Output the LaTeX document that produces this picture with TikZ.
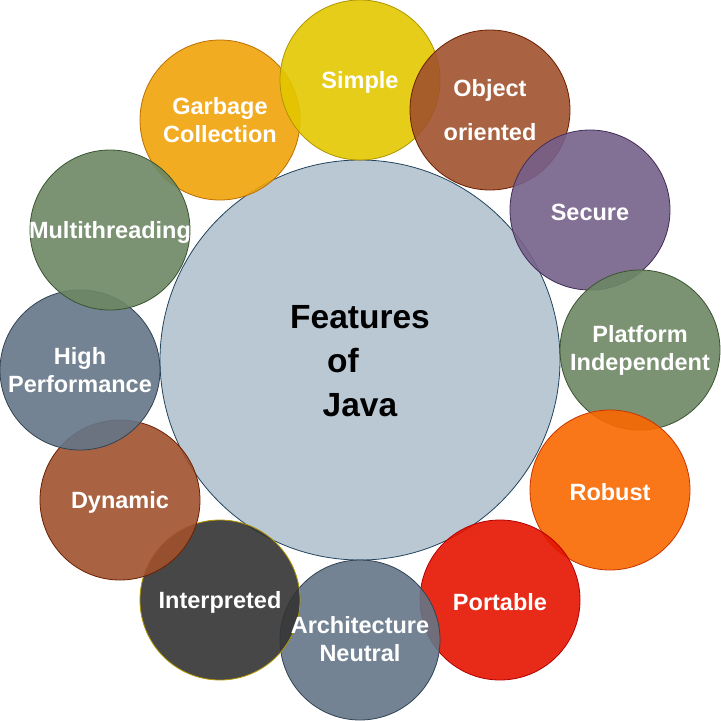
\documentclass[tikz,border=0pt]{standalone}
\usepackage{fontspec}
\setmainfont{Liberation Sans}
\definecolor{hubfill}{HTML}{BAC8D3}
\definecolor{hubline}{HTML}{23445D}
\definecolor{yellowf}{HTML}{E3C800}\definecolor{yellowl}{HTML}{B09500}
\definecolor{brownf}{HTML}{A0522D}\definecolor{brownl}{HTML}{6D1F00}
\definecolor{purplef}{HTML}{76608A}\definecolor{purplel}{HTML}{432D57}
\definecolor{greenf}{HTML}{6D8764}\definecolor{greenl}{HTML}{3A5431}
\definecolor{orangef}{HTML}{FA6800}\definecolor{orangel}{HTML}{C73500}
\definecolor{redf}{HTML}{E51400}\definecolor{redl}{HTML}{B20000}
\definecolor{slatef}{HTML}{647687}\definecolor{slatel}{HTML}{314354}
\definecolor{darkf}{HTML}{333333}
\definecolor{amberf}{HTML}{F0A30A}\definecolor{amberl}{HTML}{BD7000}
\begin{document}
\begin{tikzpicture}[x=1pt,y=-1pt,
  bubble/.style={circle, minimum size=160pt, inner sep=0pt, fill opacity=0.9, line width=0.8pt},
  caption/.style={text=white, font=\bfseries\fontsize{23.5}{28}\selectfont, align=center, inner sep=0pt},
  oneline/.style={caption, yshift=-2pt}]
\useasboundingbox (0,0) rectangle (721,721);

% central circle
\node[circle, minimum size=400pt, inner sep=0pt, fill=hubfill, draw=hubline, line width=0.8pt] (hub) at (360,360) {};
\node[font=\bfseries\fontsize{33.5}{44}\selectfont, align=center, inner sep=0pt] (hubtext) at (360,361)
  {Features\\of\hspace*{34pt}\mbox{}\\Java};

% feature bubbles
\node[bubble, fill=amberf, draw=amberl] (gc) at (220,120) {};
\node[bubble, fill=yellowf, draw=yellowl] (simple) at (360,80) {};
\node[bubble, fill=brownf, draw=brownl] (oo) at (490,110) {};
\node[bubble, fill=purplef, draw=purplel] (secure) at (590,210) {};
\node[bubble, fill=greenf, draw=greenl] (platform) at (640,350) {};
\node[bubble, fill=orangef, draw=orangel] (robust) at (610,490) {};
\node[bubble, fill=redf, draw=redl] (portable) at (500,600) {};
\node[bubble, fill=slatef, draw=slatel] (arch) at (360,640) {};
\node[bubble, fill=darkf, draw=yellowl] (interp) at (220,600) {};
\node[bubble, fill=brownf, draw=brownl] (dynamic) at (120,500) {};
\node[bubble, fill=slatef, draw=slatel] (perf) at (80,370) {};
\node[bubble, fill=greenf, draw=greenl] (mt) at (110,230) {};

% labels
\node[caption] (gctext) at (gc) {Garbage\\Collection};
\node[oneline] (simpletext) at (simple) {Simple};
\node[caption] (ootext) at (oo) {Object\\[16pt]oriented};
\node[oneline] (securetext) at (secure) {Secure};
\node[caption] (platformtext) at (platform) {Platform\\Independent};
\node[oneline] (robusttext) at (robust) {Robust};
\node[oneline] (portabletext) at (portable) {Portable};
\node[caption] (archtext) at ([yshift=1pt]arch) {Architecture\\Neutral};
\node[oneline] (interptext) at (interp) {Interpreted};
\node[oneline] (dynamictext) at (dynamic) {Dynamic};
\node[caption] (perftext) at (perf) {High\\Performance};
\node[oneline] (mttext) at (mt) {Multithreading};
\end{tikzpicture}
\end{document}
